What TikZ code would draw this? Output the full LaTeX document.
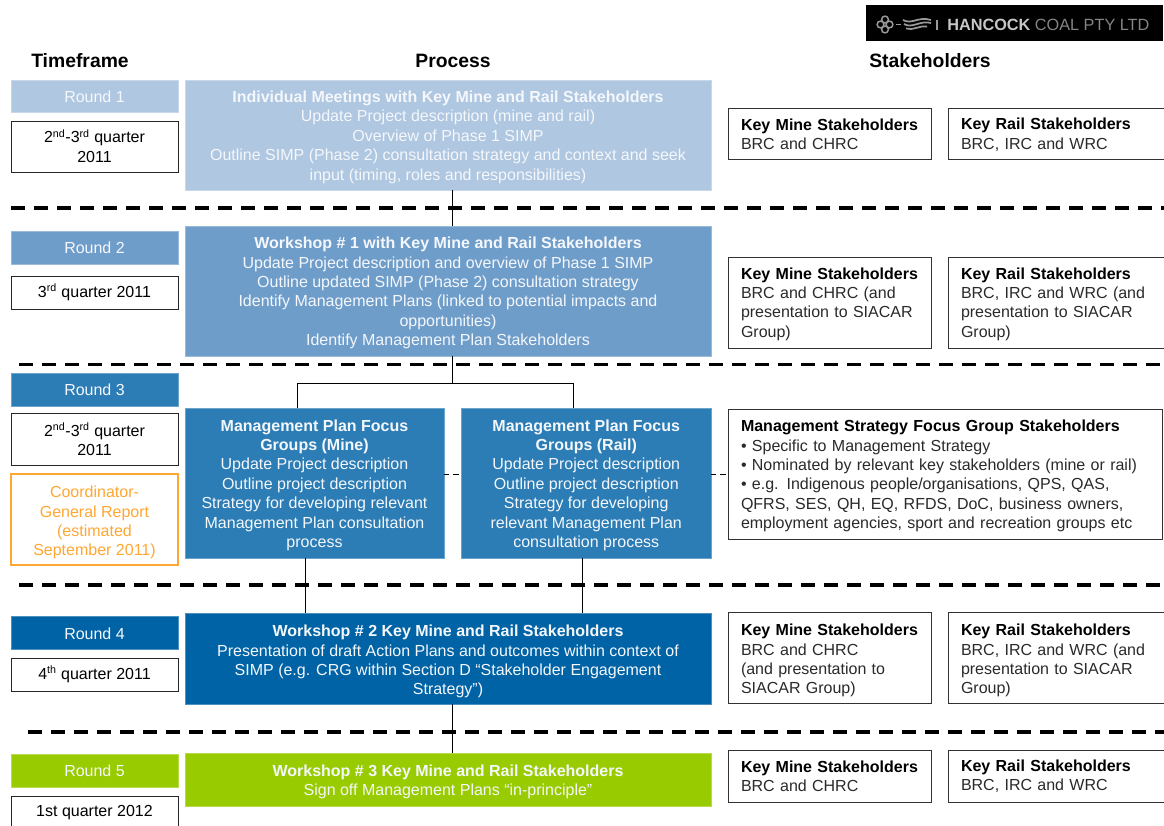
\documentclass[tikz,border=0pt]{standalone}
\usepackage{fontspec}
\setmainfont{Liberation Sans}
\definecolor{cA}{HTML}{B0C7E1}
\definecolor{cB}{HTML}{6F9DCA}
\definecolor{cC}{HTML}{2C7DB5}
\definecolor{cD}{HTML}{0063A5}
\definecolor{cE}{HTML}{99CC00}
\definecolor{cO}{HTML}{FFA733}
\definecolor{ink}{HTML}{2A2A2A}
\definecolor{pale}{HTML}{F4F7FB}
\newcommand{\bx}[7]{%
 \pgfmathsetmacro{\bxw}{(#4-#2)*0.75}\pgfmathsetmacro{\bxh}{(#5-#3)*0.75}%
 \node[#6,anchor=north west,minimum width=\bxw pt,minimum height=\bxh pt] (#1) at (#2,#3) {#7};}
\newcommand{\sq}[1]{\textsuperscript{#1}}
% \dn{p}: opens a first line so that the centred text sits p pixels lower
\newcommand{\dn}[1]{\rule{0pt}{\dimexpr 8.8pt+#1pt*3/2\relax}}
% \up: deepens a last line so that the centred text sits one pixel higher
\newcommand{\up}{\rule[-1.5pt]{0pt}{1pt}}
\tikzset{
 x=0.75pt,y=-0.75pt,
 base/.style={inner sep=0pt,outer sep=0pt,align=center,font=\fontsize{12}{14.55}\selectfont},
 fillbox/.style={base,fill=#1,draw=#1!70!white,line width=0.6pt,text=pale},
 datebox/.style={base,draw=black!85,line width=0.75pt,fill=white,text=black},
 orangebox/.style={base,draw=cO,line width=0.9pt,fill=white,text=cO},
 stake/.style={base,draw=black!80,line width=0.75pt,fill=white,text=ink,align=left,text width=#1,inner xsep=0pt},
 head/.style={inner sep=0pt,font=\fontsize{14.5}{17}\selectfont\bfseries,text=black},
 link/.style={draw=black,line width=0.65pt},
 thin dash/.style={draw=black,line width=0.65pt,dash pattern=on 4pt off 3pt},
 sep/.style={draw=black,line width=2.6pt,dash pattern=on 10.5pt off 6.75pt},
}
\begin{document}
\begin{tikzpicture}
\useasboundingbox (0,0) rectangle (1164,825);
\begin{scope}
\clip (0,0) rectangle (1164,825);
% logo
\node[fill=black,inner sep=0pt,outer sep=0pt,anchor=north west,minimum width=222.75pt,minimum height=27pt] (logo) at (866,5) {};
\node[anchor=west,inner sep=0pt,font=\fontsize{12.2}{14}\selectfont,text=black!22] (logotext) at (947,24.5) {\textbf{HANCOCK} \textcolor{black!48}{COAL PTY LTD}};
\begin{scope}[draw=black!40,line width=1.1pt]
 \draw (885,19.5) circle[radius=3.4] (885,29.5) circle[radius=3.4] (880.5,24.5) circle[radius=3.4] (889.5,24.5) circle[radius=3.4];
 \draw[line width=1.3pt] (896,24.5) -- (901,24.5);
 \draw[line width=1.3pt] (903,20) .. controls (912,25) and (918,16) .. (931,20);
 \draw[line width=1.3pt] (904,24) .. controls (912,29) and (920,20) .. (931,23);
 \draw[line width=1.3pt] (906,28.5) .. controls (913,31) and (920,25) .. (927,26.5);
 \draw (937,19.5) -- (937,30);
\end{scope}
% headings
\node[head] (h1) at (80,60.5) {Timeframe};
\node[head] (h2) at (453,60.5) {Process};
\node[head] (h3) at (930,60.5) {Stakeholders};
% rounds
\bx{r1}{11}{80}{178}{112}{fillbox=cA}{\dn{1}Round 1}
\bx{d1}{11}{121}{178}{172.5}{datebox}{2\sq{nd}-3\sq{rd} quarter\\2011\up}
\bx{r2}{11}{231}{178}{264}{fillbox=cB}{Round 2}
\bx{d2}{11}{276}{178}{309}{datebox}{\dn{1}3\sq{rd} quarter 2011}
\bx{r3}{11}{373}{178}{406}{fillbox=cC}{Round 3}
\bx{d3}{11}{413}{178}{465.5}{datebox}{2\sq{nd}-3\sq{rd} quarter\\2011}
\bx{cg}{11}{474}{178}{565}{orangebox}{\dn{3}Coordinator-\\General Report\\(estimated\\September 2011)}
\bx{r4}{11}{616}{178}{649.5}{fillbox=cD}{\dn{1}Round 4}
\bx{d4}{11}{658}{178}{691}{datebox}{4\sq{th} quarter 2011}
\bx{r5}{11}{754}{178}{787}{fillbox=cE}{Round 5}
\node[datebox,anchor=north west,minimum width=125.25pt,minimum height=27pt] (d5) at (11,796) {};
\node[base,text=black] (d5t) at (94.5,813) {1st quarter 2012};
% process
\bx{m1}{185}{80}{711}{190}{fillbox=cA}{\dn{2}\textbf{Individual Meetings with Key Mine and Rail Stakeholders}\\Update Project description (mine and rail)\\Overview of Phase 1 SIMP\\Outline SIMP (Phase 2) consultation strategy and context and seek\\input (timing, roles and responsibilities)}
\bx{m2}{185}{226}{711}{356}{fillbox=cB}{\dn{2}\textbf{Workshop \# 1 with Key Mine and Rail Stakeholders}\\Update Project description and overview of Phase 1 SIMP\\Outline updated SIMP (Phase 2) consultation strategy\\Identify Management Plans (linked to potential impacts and\\opportunities)\\Identify Management Plan Stakeholders}
\bx{fm}{185}{408}{444}{558}{fillbox=cC}{\dn{2}\textbf{Management Plan Focus}\\\textbf{Groups (Mine)}\\Update Project description\\Outline project description\\Strategy for developing relevant\\Management Plan consultation\\process}
\bx{fr}{461.5}{408}{711}{558}{fillbox=cC}{\dn{2}\textbf{Management Plan Focus}\\\textbf{Groups (Rail)}\\Update Project description\\Outline project description\\Strategy for developing\\relevant Management Plan\\consultation process}
\bx{m4}{185}{613}{711}{704}{fillbox=cD}{\dn{3}\textbf{Workshop \# 2 Key Mine and Rail Stakeholders}\\Presentation of draft Action Plans and outcomes within context of\\SIMP (e.g. CRG within Section D “Stakeholder Engagement\\Strategy”)}
\bx{m5}{185}{753}{711}{806}{fillbox=cE}{\dn{2.5}\textbf{Workshop \# 3 Key Mine and Rail Stakeholders}\\Sign off Management Plans “in-principle”}
% stakeholders
\bx{s1a}{728}{108}{931}{159}{stake=132.75pt}{\dn{1}\textcolor{black}{\textbf{Key Mine Stakeholders}}\\BRC and CHRC}
\bx{s1b}{948}{108}{1175}{159}{stake=150.75pt}{\dn{1}\textcolor{black}{\textbf{Key Rail Stakeholders}}\\BRC, IRC and WRC}
\bx{s2a}{728}{257}{931}{348}{stake=132.75pt}{\dn{1.5}\textcolor{black}{\textbf{Key Mine Stakeholders}}\\BRC and CHRC (and\\presentation to SIACAR\\Group)}
\bx{s2b}{948}{257}{1175}{348}{stake=150.75pt}{\dn{1.5}\textcolor{black}{\textbf{Key Rail Stakeholders}}\\BRC, IRC and WRC (and\\presentation to SIACAR\\Group)}
\bx{s3}{728}{409}{1162}{539}{stake=306pt}{\dn{2}\textcolor{black}{\textbf{Management Strategy Focus Group Stakeholders}}\\• Specific to Management Strategy\\• Nominated by relevant key stakeholders (mine or rail)\\• e.g. Indigenous people/organisations, QPS, QAS,\\QFRS, SES, QH, EQ, RFDS, DoC, business owners,\\employment agencies, sport and recreation groups etc}
\bx{s4a}{728}{612}{931}{703}{stake=132.75pt}{\dn{3}\textcolor{black}{\textbf{Key Mine Stakeholders}}\\BRC and CHRC\\(and presentation to\\SIACAR Group)}
\bx{s4b}{948}{612}{1175}{703}{stake=150.75pt}{\dn{3}\textcolor{black}{\textbf{Key Rail Stakeholders}}\\BRC, IRC and WRC (and\\presentation to SIACAR\\Group)}
\bx{s5a}{728}{750}{931}{802}{stake=132.75pt}{\textcolor{black}{\textbf{Key Mine Stakeholders}}\\BRC and CHRC}
\bx{s5b}{948}{750}{1175}{802}{stake=150.75pt}{\textcolor{black}{\textbf{Key Rail Stakeholders}}\\BRC, IRC and WRC}
% separators
\coordinate (e1) at (11,208); \coordinate (e2) at (19,364.5); \coordinate (e3) at (19,585); \coordinate (e4) at (28,732);
\coordinate (rim) at (1164,0);
\draw[sep] (e1) -- (e1 -| rim);
\draw[sep] (e2) -- (e2 -| rim);
\draw[sep] (e3) -- (e3 -| rim);
\draw[sep] (e4) -- (e4 -| rim);
% connectors
\coordinate (spine) at (452.5,0);
\coordinate (bus) at (452.5,383);
\coordinate (inm) at (297,0); \coordinate (inr) at (573,0);
\coordinate (outm) at (305,0); \coordinate (outr) at (582,0);
\draw[link] (spine |- m1.south) -- (spine |- m2.north);
\draw[link] (spine |- m2.south) -- (bus);
\draw[link] (inm |- fm.north) -- (inm |- bus) -- (inr |- bus) -- (inr |- fr.north);
\draw[link] (outm |- fm.south) -- (outm |- m4.north);
\draw[link] (outr |- fr.south) -- (outr |- m4.north);
\draw[link] (spine |- m4.south) -- (spine |- m5.north);
\coordinate (lat) at (0,474);
\draw[thin dash] (fm.east |- lat) -- (fr.west |- lat);
\draw[thin dash] (fr.east |- lat) -- (s3.west |- lat);
\end{scope}
\end{tikzpicture}
\end{document}
